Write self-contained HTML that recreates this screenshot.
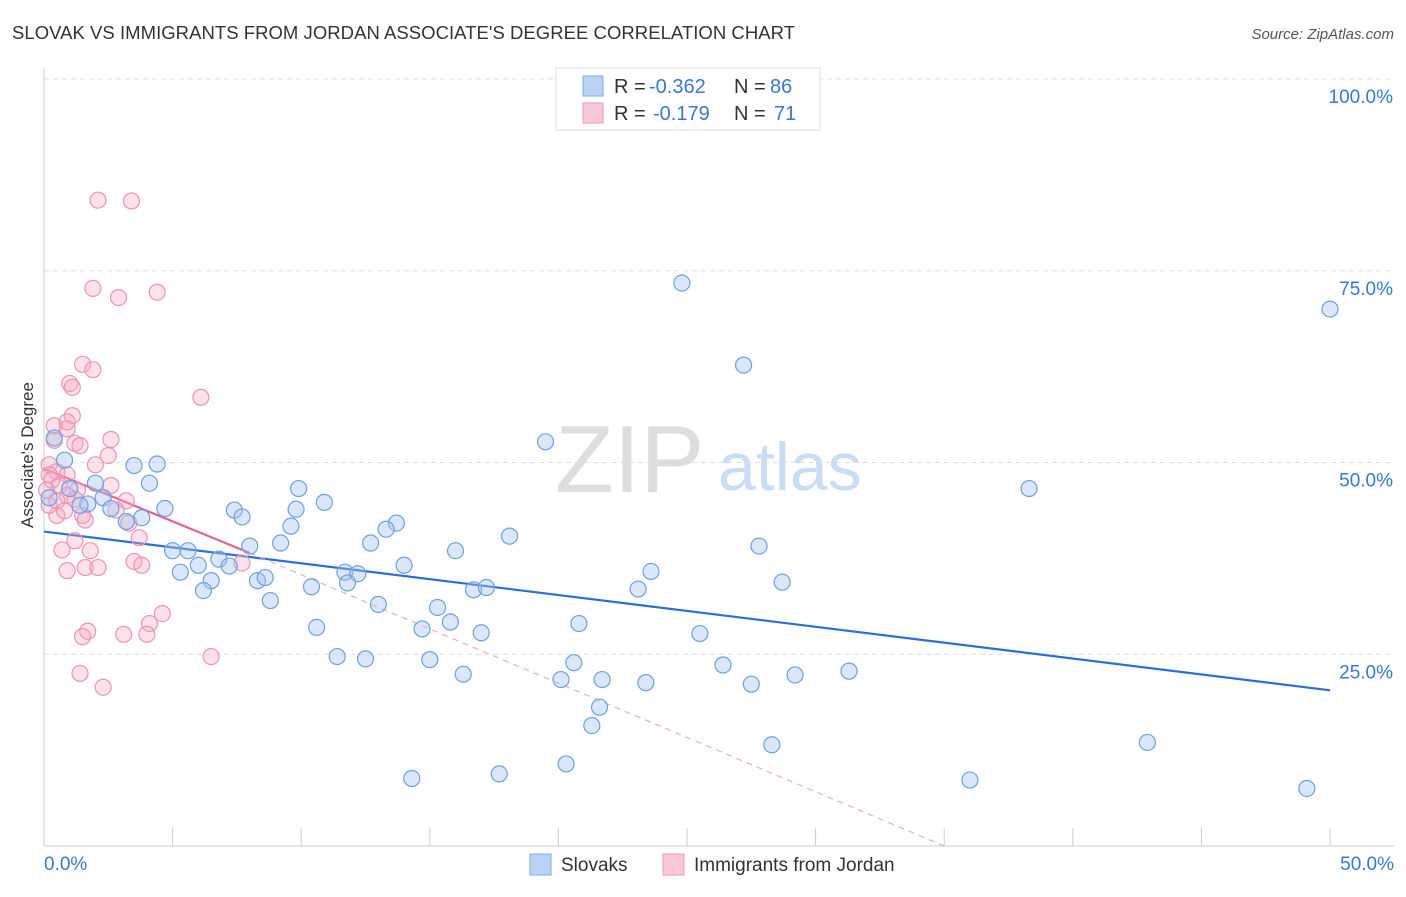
<!DOCTYPE html>
<html><head><meta charset="utf-8"><style>
body{margin:0;background:#fff;font-family:"Liberation Sans",sans-serif;}
svg text{font-family:"Liberation Sans",sans-serif;}
</style></head><body>
<svg width="1406" height="892" xmlns="http://www.w3.org/2000/svg" id="chart">
<text x="12" y="39" font-size="18.5" fill="#333" textLength="783">SLOVAK VS IMMIGRANTS FROM JORDAN ASSOCIATE'S DEGREE CORRELATION CHART</text>
<text x="1394" y="39" font-size="15" fill="#555" font-style="italic" text-anchor="end">Source: ZipAtlas.com</text>
<text x="33" y="455" font-size="17" fill="#333" text-anchor="middle" transform="rotate(-90 33 455)">Associate's Degree</text>
<text x="555" y="492" font-size="96" fill="#ddd" font-family="Liberation Serif">ZIP</text>
<text x="718" y="490" font-size="68" fill="#c9dcf3">atlas</text>
<g id="grid"></g><g id="trend"></g><g id="pts"></g>
<g>
<rect x="556" y="68" width="264" height="62" fill="#fff" stroke="#ddd"/>
<rect x="583" y="76" width="20" height="20" fill="#b9d3f5" stroke="#7fa9e6"/>
<rect x="583" y="103" width="20" height="20" fill="#f9c7d6" stroke="#ef97b3"/>
<text x="614" y="93" font-size="20" fill="#333">R =</text>
<text x="649" y="93" font-size="20" fill="#3a76d6">-0.362</text>
<text x="734" y="93" font-size="20" fill="#333">N =</text>
<text x="770" y="93" font-size="20" fill="#3a76d6">86</text>
<text x="614" y="120" font-size="20" fill="#333">R =</text>
<text x="653" y="120" font-size="20" fill="#3a76d6">-0.179</text>
<text x="734" y="120" font-size="20" fill="#333">N =</text>
<text x="774" y="120" font-size="20" fill="#3a76d6">71</text>
</g>
<g>
<rect x="530" y="854" width="21" height="21" fill="#b9d3f5" stroke="#7fa9e6"/>
<text x="561" y="871" font-size="19" fill="#333">Slovaks</text>
<rect x="663" y="854" width="21" height="21" fill="#f9c7d6" stroke="#ef97b3"/>
<text x="694" y="871" font-size="19" fill="#333">Immigrants from Jordan</text>
</g>
</svg>
<script>
const xTicks=[0,5,10,15,20,25,30,35,40,45,50];
const yTicks=[25,50,75,100];
const yTickLabels=["25.0%","50.0%","75.0%","100.0%"];
const slovakX=[24.8,50,27.2,19.5,38.3,4.4,3.5,4.1,2,2.3,1.7,2.6,4.7,3.8,3.2,0.4,0.8,9.9,10.9,7.4,7.7,9.8,9.6,13.7,13.3,18.1,12.7,16,27.8,5,5.6,8,9.2,6,6.8,7.2,5.3,6.5,6.2,8.3,8.6,11.7,12.2,14,23.6,11.8,10.4,16.7,17.2,23.1,28.7,8.8,13,15.3,15.8,14.7,10.6,17,20.8,25.5,11.4,12.5,15,16.3,20.6,20.1,21.7,23.4,26.4,27.5,29.2,31.3,21.6,21.3,28.3,42.9,14.3,17.7,20.3,36,49.1,0.2,1,1.4];
const slovakY=[73.4,70,62.7,52.7,46.6,49.8,49.6,47.3,47.3,45.4,44.6,44,44,42.8,42.3,53.2,50.3,46.6,44.8,43.8,42.9,43.9,41.7,42.1,41.3,40.4,39.5,38.5,39.1,38.5,38.5,39.1,39.5,36.6,37.4,36.5,35.7,34.6,33.3,34.6,35,35.7,35.5,36.6,35.8,34.3,33.8,33.4,33.7,33.5,34.4,32,31.5,31.1,29.2,28.3,28.5,27.8,29,27.7,24.7,24.4,24.3,22.4,23.9,21.7,21.7,21.3,23.6,21.1,22.3,22.8,18.1,15.7,13.2,13.5,8.8,9.4,10.7,8.6,7.5,45.4,46.6,44.4];
const jordanX=[2.1,3.4,1.9,2.9,4.4,6.1,1.5,1.9,1,1.1,1.1,0.4,0.9,0.9,2.6,1.2,1.4,0.4,2.5,2,0.2,0.5,0.2,0.9,0.3,0.6,1.3,2.6,0.9,1.2,3.2,1.5,0.5,2.8,3.3,3.7,1.2,0.7,1.8,3.5,3.8,7.7,0.9,1.6,2.1,4.1,4.6,1.7,1.5,4,3.1,6.5,1.4,2.3,0.1,0.2,0.5,0.8,1.6];
const jordanY=[84.2,84.1,72.7,71.5,72.2,58.5,62.8,62.1,60.3,59.8,56.1,54.8,54.4,55.3,53,52.5,52.2,52.9,50.9,49.7,49.7,48.8,48.4,48.4,47.7,47,46.4,47,45.7,45.2,45,43.1,43.1,43.8,42.1,40.2,39.8,38.6,38.5,37.1,36.6,36.9,35.9,36.3,36.3,29,30.3,28,27.3,27.6,27.6,24.7,22.5,20.7,46.4,44.4,45,43.7,42.5];
const X0=44,X1=1330,YB=846,YT=79;
const sx=v=>X0+(X1-X0)*v/50;
const sy=v=>YB-(YB-YT)*v/100;
const NS="http://www.w3.org/2000/svg";
function mk(t,a,p){const e=document.createElementNS(NS,t);for(const k in a)e.setAttribute(k,a[k]);p.appendChild(e);return e;}
const grid=document.getElementById('grid');
yTicks.forEach((v,i)=>{
 const l=mk('line',{x1:X0,x2:1394,y1:sy(v),y2:sy(v),stroke:'#ddd','stroke-dasharray':'5,4'},grid);
 
 
 const t=mk('text',{x:1393,y:sy(v)+24,'font-size':19,fill:'#3a76d6','text-anchor':'end'},grid);
 t.textContent=yTickLabels[i];
 
 
});
const ax=mk('line',{x1:X0,x2:1394,y1:YB,y2:YB,stroke:'#ccc'},grid);


const ay=mk('line',{x1:X0,x2:X0,y1:68,y2:YB,stroke:'#ccc'},grid);


xTicks.forEach(v=>{
 const l=mk('line',{x1:sx(v),x2:sx(v),y1:828,y2:YB,stroke:'#ccc'},grid);
 
 
});
[[0,"0.0%","start",44],[50,"50.0%","end",1394]].forEach(d=>{
 const t=mk('text',{x:d[3],y:870,'font-size':19,fill:'#3a76d6','text-anchor':d[2]},grid);
 t.textContent=d[1];
 
 
});
const tr=document.getElementById('trend');
const bl=mk('line',{x1:sx(0),y1:sy(41),x2:sx(50),y2:sy(20.3),stroke:'#2a6fd8','stroke-width':2.2},tr);


const pl=mk('line',{x1:sx(0),y1:sy(49.2),x2:sx(8),y2:sy(38.2),stroke:'#e8608a','stroke-width':2.2},tr);


const pd=mk('line',{x1:sx(8),y1:sy(38.2),x2:sx(35),y2:sy(0),stroke:'#e8a0b8','stroke-width':1,'stroke-dasharray':'6,5'},tr);


const pts=document.getElementById('pts');
jordanX.forEach((v,i)=>{
 const c=mk('circle',{cx:sx(v),cy:sy(jordanY[i]),r:8,fill:'rgba(246,170,195,0.35)',stroke:'#ec93b1','stroke-width':1.2},pts);
 
 
});
slovakX.forEach((v,i)=>{
 const c=mk('circle',{cx:sx(v),cy:sy(slovakY[i]),r:8,fill:'rgba(160,195,240,0.4)',stroke:'#6f9fe0','stroke-width':1.2},pts);
 
 
});
</script>
</body></html>
